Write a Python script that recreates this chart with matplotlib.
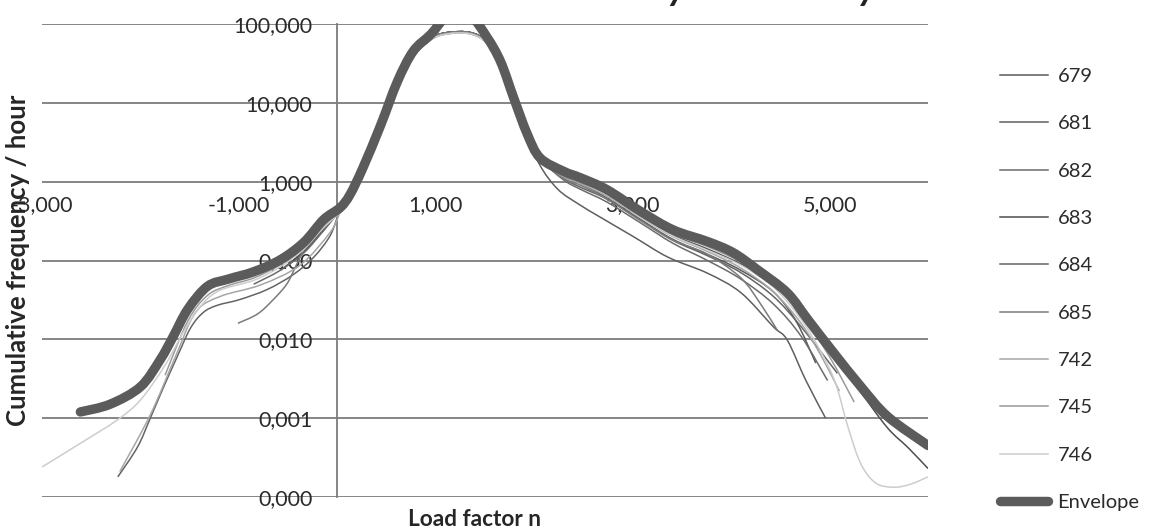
import numpy as np
import matplotlib.pyplot as plt
from matplotlib.ticker import NullLocator
from matplotlib.path import Path
from matplotlib.patches import PathPatch
from matplotlib.lines import Line2D

plt.rcParams['font.family'] = ['Lato', 'DejaVu Sans']

# axis ticks (decimal comma, as in the original sheet)
y_ticks = [1e-4, 1e-3, 1e-2, 1e-1, 1, 10, 100]
y_labels = ['0,000', '0,001', '0,010', '0,100', '1,000', '10,000', '100,000']
x_ticks = [-3, -1, 1, 3, 5]
x_labels = ['-3,000', '-1,000', '1,000', '3,000', '5,000']

# load factor n where all thin curves run together under the envelope
core_x = [0.03, 0.13, 0.26, 0.44, 0.61, 0.77, 0.95, 1.12, 1.35, 1.52, 1.66, 1.79, 1.93, 2.06]
core_a = [0.41, 0.59, 1.3, 4.5, 15.5, 38, 63, 75, 75, 57, 30, 10.9, 3.7, 1.9]
core_b = [0.44, 0.63, 1.4, 4.8, 16.5, 40, 66, 78, 78, 60, 32, 11.5, 3.9, 1.95]

# envelope
env_x = [-2.61, -2.31, -2.00, -1.80, -1.67, -1.52, -1.32, -1.11, -0.85, -0.58,
         -0.34, -0.14, 0.03, 0.13, 0.26, 0.44, 0.61, 0.77, 0.95, 1.12,
         1.35, 1.52, 1.66, 1.79, 1.93, 2.06, 2.30, 2.47, 2.74, 3.08,
         3.41, 3.76, 4.02, 4.27, 4.57, 4.78, 5.04, 5.32, 5.59, 6.00]
env_y = [1.2e-3, 1.5e-3, 2.5e-3, 5.5e-3, 1.07e-2, 2.4e-2, 4.7e-2, 5.8e-2, 7.2e-2, 0.102,
         0.17, 0.33, 0.47, 0.69, 1.5, 5.2, 18.6, 45, 74, 125,
         125, 68, 33, 11.7, 4.0, 2.0, 1.35, 1.12, 0.79, 0.42,
         0.245, 0.174, 0.126, 0.076, 0.039, 0.0178, 6.8e-3, 2.5e-3, 1.05e-3, 4.5e-4]

# single aircraft
x_679 = [-0.58, -0.34, -0.14] + core_x + [2.30, 2.47, 2.74, 3.08, 3.41, 3.76, 4.10, 4.43, 4.66, 4.86]
y_679 = [0.075, 0.13, 0.25] + core_b + [1.15, 0.95, 0.62, 0.33, 0.185, 0.12, 0.075, 0.04, 0.017, 5.0e-3]

x_681 = [-0.34, -0.14] + core_x[:-1] + [2.06, 2.24, 2.45, 2.67, 3.01, 3.36, 3.76, 4.10, 4.43, 4.57, 4.76, 4.96]
y_681 = [0.13, 0.24] + core_b[:-1] + [1.6, 0.8, 0.52, 0.355, 0.2, 0.11, 0.069, 0.039, 0.0144, 9.8e-3, 3.0e-3, 1.0e-3]

x_682 = [-0.85, -0.58, -0.34, -0.14] + core_x + [2.30, 2.47, 2.74, 3.08, 3.41, 3.76, 4.10, 4.43, 4.71, 4.98]
y_682 = [0.05, 0.075, 0.125, 0.24] + core_b + [1.05, 0.8, 0.55, 0.3, 0.165, 0.1, 0.058, 0.028, 0.011, 3.0e-3]

x_683 = [-0.45, -0.34, -0.14] + core_x + [2.30, 2.47, 2.74, 3.08, 3.41, 3.76, 4.10, 4.43, 4.71,
                                         5.04, 5.32, 5.59, 5.80, 6.00]
y_683 = [0.1, 0.135, 0.26] + core_b + [1.2, 1.0, 0.7, 0.37, 0.21, 0.14, 0.09, 0.052, 0.021,
                                       6.0e-3, 2.1e-3, 7.5e-4, 4.2e-4, 2.3e-4]

x_684 = [-2.23, -2.03, -1.90, -1.77, -1.63, -1.49, -1.36, -1.22, -0.99, -0.71, -0.45, -0.24, -0.07] \
    + core_x + [2.30, 2.47, 2.74, 3.08, 3.41, 3.76, 4.10, 4.43, 4.71, 5.08]
y_684 = [1.8e-4, 4.3e-4, 1.0e-3, 2.4e-3, 5.9e-3, 0.014, 0.022, 0.027, 0.032, 0.043, 0.066, 0.11, 0.21] \
    + core_b + [1.1, 0.85, 0.6, 0.33, 0.18, 0.115, 0.07, 0.035, 0.0145, 3.7e-3]

x_685 = [-1.01, -0.81, -0.65, -0.51, -0.41, -0.30, -0.17] + core_x \
    + [2.30, 2.47, 2.74, 3.08, 3.41, 3.76, 4.10, 4.30, 4.47]
y_685 = [0.016, 0.021, 0.032, 0.051, 0.091, 0.166, 0.26] + core_b \
    + [1.1, 0.9, 0.6, 0.32, 0.18, 0.12, 0.06, 0.028, 0.013]

x_742 = [-2.21, -1.90, -1.65, -1.44, -1.19, -0.78, -0.38, -0.07] + core_x \
    + [2.30, 2.47, 2.74, 3.08, 3.41, 3.76, 4.10, 4.43, 4.71, 4.92, 5.10]
y_742 = [2.1e-4, 1.1e-3, 5.8e-3, 0.022, 0.035, 0.049, 0.087, 0.23] + core_a \
    + [1.15, 0.95, 0.65, 0.35, 0.2, 0.13, 0.08, 0.04, 0.016, 6.0e-3, 2.2e-3]

x_745 = [-1.75, -1.52, -1.32, -1.11, -0.85, -0.58, -0.34, -0.14] + core_x \
    + [2.30, 2.47, 2.74, 3.08, 3.41, 3.76, 4.10, 4.43, 4.71, 5.00, 5.25]
y_745 = [3.5e-3, 0.017, 0.036, 0.048, 0.06, 0.088, 0.145, 0.28] + core_a \
    + [1.2, 1.0, 0.72, 0.38, 0.22, 0.15, 0.095, 0.05, 0.021, 6.0e-3, 1.6e-3]

x_746 = [-3.0, -2.61, -2.24, -2.0, -1.75, -1.49, -1.24, -0.85, -0.58, -0.35, -0.14] + core_x \
    + [2.30, 2.47, 2.74, 3.08, 3.41, 3.76, 4.10, 4.43, 4.71, 4.91, 5.06, 5.19, 5.32, 5.47, 5.65, 5.82, 6.0]
y_746 = [2.4e-4, 4.8e-4, 9.4e-4, 1.7e-3, 4.7e-3, 0.0175, 0.039, 0.056, 0.083, 0.135, 0.26] + core_a \
    + [1.2, 1.0, 0.68, 0.355, 0.204, 0.135, 0.087, 0.046, 0.018, 7.0e-3, 2.8e-3, 7.5e-4, 2.6e-4,
       1.5e-4, 1.33e-4, 1.45e-4, 1.8e-4]

series = [
    ('679', x_679, y_679, '#595959'),
    ('681', x_681, y_681, '#5f5f5f'),
    ('682', x_682, y_682, '#6b6b6b'),
    ('683', x_683, y_683, '#4e4e4e'),
    ('684', x_684, y_684, '#646464'),
    ('685', x_685, y_685, '#7b7b7b'),
    ('742', x_742, y_742, '#a6a6a6'),
    ('745', x_745, y_745, '#9a9a9a'),
    ('746', x_746, y_746, '#cdcdcd'),
]


def smooth_path(xs, ys):
    # Excel-style smoothed line: cubic bezier through the points, built in (x, log y)
    p = np.column_stack([xs, np.log10(ys)])
    q = np.vstack([p[:1], p, p[-1:]])
    verts = [p[0]]
    codes = [Path.MOVETO]
    for i in range(len(p) - 1):
        c1 = q[i + 1] + (q[i + 2] - q[i]) / 6
        c2 = q[i + 2] - (q[i + 3] - q[i + 1]) / 6
        verts += [c1, c2, p[i + 1]]
        codes += [Path.CURVE4] * 3
    verts = np.array(verts)
    verts[:, 1] = 10 ** verts[:, 1]
    return Path(verts, codes)


fig = plt.figure(figsize=(11.52, 5.30), dpi=100)
ax = fig.add_axes([42 / 1152, 33 / 530, 886 / 1152, 473 / 530])

handles = []
for name, xs, ys, col in series:
    ax.add_patch(PathPatch(smooth_path(xs, ys), fill=False, edgecolor=col, lw=1.1, zorder=3))
    handles.append(Line2D([], [], color=col, lw=1.1, label=name))
ax.add_patch(PathPatch(smooth_path(env_x, env_y), fill=False, edgecolor='#5b5b5b', lw=6.8,
                       capstyle='round', joinstyle='round', zorder=4))
handles.append(Line2D([], [], color='#5b5b5b', lw=6.8, solid_capstyle='round', label='Envelope'))

ax.set_yscale('log')
ax.set_ylim(1e-4, 1e2)
ax.set_xlim(-3, 6)
ax.set_yticks(y_ticks)
ax.set_yticklabels(y_labels)
ax.yaxis.set_minor_locator(NullLocator())
ax.set_xticks(x_ticks)
ax.set_xticklabels(x_labels)

ax.grid(axis='y', color='#7c7c7c', lw=1.3, zorder=1)
ax.set_axisbelow(True)
for s in ['top', 'right', 'bottom']:
    ax.spines[s].set_visible(False)
ax.spines['left'].set_position(('data', 0))
ax.spines['left'].set_color('#7c7c7c')
ax.spines['left'].set_linewidth(1.3)
ax.spines['bottom'].set_position(('data', 1))

ax.tick_params(axis='y', length=0, pad=18, labelsize=15.5, labelcolor='#2b2b2b')
ax.tick_params(axis='x', length=0, pad=10, labelsize=15.5, labelcolor='#2b2b2b')

fig.text(18 / 1152, 1 - 260 / 530, 'Cumulative frequency / hour', rotation=90,
         ha='center', va='center', fontsize=18.5, fontweight='bold', color='#262626')
fig.text(474 / 1152, 1 - 519 / 530, 'Load factor n', ha='center', va='center',
         fontsize=16.3, fontweight='bold', color='#262626')

# title of the scanned page, cut off at the top edge: only the two "y" tails show
title = 'Load exceedance curves by unit history'
r = fig.canvas.get_renderer()


def text_w(s, fs):
    t = fig.text(0, 0, s, fontsize=fs, fontweight='bold', fontstyle='italic')
    w = t.get_window_extent(r).width
    t.remove()
    return w


fs = 20
w1 = text_w('Load exceedance curves b', fs)
w2 = text_w('Load exceedance curves by unit histor', fs)
fs = fs * 190 / (w2 - w1)
w1 = text_w('Load exceedance curves b', fs)
wy = text_w('y', fs)
fig.text((677 - w1 - wy / 2) / 1152, 1.0, title, ha='left', va='baseline',
         fontsize=fs, fontweight='bold', fontstyle='italic', color='#222222')

ax.legend(handles=handles, loc='upper left', bbox_to_anchor=(990 / 1152, 1 - 58 / 530),
          bbox_transform=fig.transFigure, frameon=False, fontsize=14.5,
          handlelength=2.4, handletextpad=0.45, labelspacing=1.5, borderpad=0,
          labelcolor='#2b2b2b')

fig.savefig('out.png', dpi=100)
